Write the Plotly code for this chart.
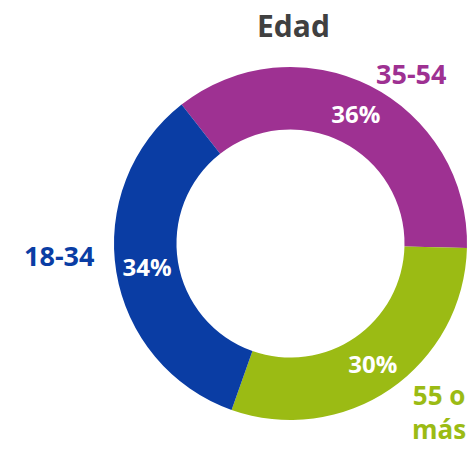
import plotly.graph_objects as go

categories = ["35-54", "55 o más", "18-34"]
values = [36, 30, 34]
colors = ["#9E3192", "#9BBB14", "#0A3DA4"]
pct_text = ["36%", "30%", "34%"]
title_text = "Edad"

W, H = 471, 449

fig = go.Figure(go.Pie(
    labels=categories,
    values=values,
    text=pct_text,
    textinfo="text",
    textposition="inside",
    insidetextorientation="horizontal",
    hole=0.646,
    sort=False,
    direction="clockwise",
    rotation=-38.1,
    marker=dict(colors=colors, line=dict(color="white", width=0)),
    textfont=dict(family="Open Sans", size=24, color="white", weight="bold"),
    showlegend=False,
    hoverinfo="label+percent",
    domain=dict(x=[114 / W, 467 / W], y=[(H - 420) / H, (H - 67) / H]),
))

fig.update_layout(
    width=W, height=H,
    margin=dict(l=0, r=0, t=0, b=0),
    paper_bgcolor="white",
    plot_bgcolor="white",
    uniformtext=dict(minsize=10, mode="show"),
)


def label(text, x, y, size, color):
    fig.add_annotation(text=text, x=x / W, y=1 - y / H, xref="paper", yref="paper",
                       xanchor="center", yanchor="middle", showarrow=False, align="center",
                       font=dict(family="Open Sans", size=size, color=color))


label("<b>" + title_text + "</b>", 293, 25, 30, "#404040")
label("<b>" + categories[0] + "</b>", 411, 73, 27, colors[0])
label("<b>" + categories[2] + "</b>", 59, 255, 27, colors[2])
label("<b>55 o<br>más</b>", 439, 412, 26, colors[1])

fig.write_html("out.html", config={"displayModeBar": False},
               post_script="document.body.style.margin='0';document.body.style.padding='0';")
